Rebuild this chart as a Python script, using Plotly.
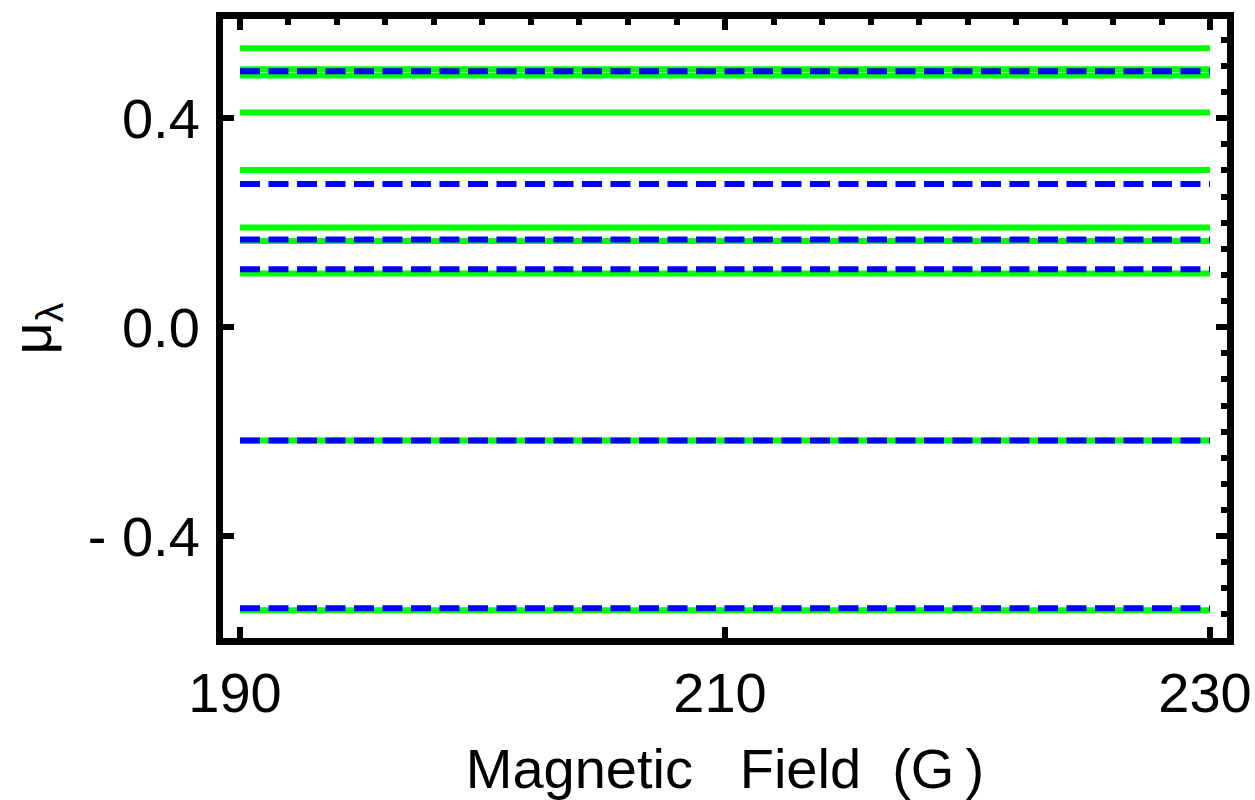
import plotly.graph_objects as go

# ---- data ----
field = [190, 230]
green_levels = [0.534, 0.494, 0.482, 0.411, 0.301, 0.191, 0.165, 0.103, -0.217, -0.542]
blue_levels = [0.490, 0.274, 0.168, 0.111, -0.217, -0.538]
x_tickvals = [190, 210, 230]
x_ticktext = ["190", "210", "230"]
y_tickvals = [-0.4, 0.0, 0.4]
y_ticktext = ["- 0.4", "0.0", "0.4"]

FONT = "Liberation Sans, Arial, sans-serif"
GREEN = "#00FF00"
BLUE = "#0000FF"

fig = go.Figure()
for v in green_levels:
    fig.add_trace(go.Scatter(x=field, y=[v, v], mode="lines",
                             line=dict(color=GREEN, width=6),
                             showlegend=False, hoverinfo="skip"))
for v in blue_levels:
    fig.add_trace(go.Scatter(x=field, y=[v, v], mode="lines",
                             line=dict(color=BLUE, width=6, dash="20px,8.5px"),
                             showlegend=False, hoverinfo="skip"))
# invisible trace registering the mirrored frame axes
fig.add_trace(go.Scatter(x=field, y=[0, 0], mode="lines", xaxis="x2", yaxis="y2",
                         line=dict(width=0), opacity=0, showlegend=False, hoverinfo="skip"))

xr = [189.3, 230.7]
yr = [-0.595, 0.590]

fig.update_layout(
    width=1255, height=800,
    margin=dict(l=223, r=28, t=19, b=162, pad=0, autoexpand=False),
    paper_bgcolor="white", plot_bgcolor="white",
    font=dict(family=FONT, size=56, color="black"),
    xaxis=dict(range=xr, tickvals=x_tickvals, ticktext=x_ticktext, automargin=True,
               ticks="inside", ticklen=11, tickwidth=6, tickcolor="black",
               showline=True, linewidth=7, linecolor="black",
               showgrid=False, zeroline=False,
               tickfont=dict(size=56), ticklabeloverflow="allow",
               ticklabelshift=-5,
               title=dict(text="Magnetic\u00a0\u00a0\u00a0Field\u00a0\u00a0(G\u2009)", standoff=32,
                          font=dict(size=56))),
    yaxis=dict(range=yr, tickvals=y_tickvals, ticktext=y_ticktext, automargin=True,
               ticks="inside", ticklen=11, tickwidth=6, tickcolor="black",
               showline=True, linewidth=7, linecolor="black",
               showgrid=False, zeroline=False,
               tickfont=dict(size=56), ticklabelstandoff=5,
               title=dict(text="μ<sub>λ</sub>", standoff=36, font=dict(size=56))),
    xaxis2=dict(range=xr, overlaying="x", side="top", anchor="y2", automargin=False,
                tickvals=x_tickvals, showticklabels=False,
                ticks="inside", ticklen=11, tickwidth=6, tickcolor="black",
                minor=dict(dtick=2, tick0=190, ticks="inside", ticklen=6, tickwidth=6,
                           tickcolor="black", showgrid=False),
                showline=True, linewidth=7, linecolor="black",
                showgrid=False, zeroline=False),
    yaxis2=dict(range=yr, overlaying="y", side="right", anchor="x2", automargin=False,
                tickvals=[-0.4, 0.0, 0.4], showticklabels=False,
                ticks="inside", ticklen=11, tickwidth=6, tickcolor="black",
                minor=dict(dtick=0.05, tick0=0, ticks="inside", ticklen=6, tickwidth=6,
                           tickcolor="black", showgrid=False),
                showline=True, linewidth=7, linecolor="black",
                showgrid=False, zeroline=False),
)

fig.write_html("out.html")
